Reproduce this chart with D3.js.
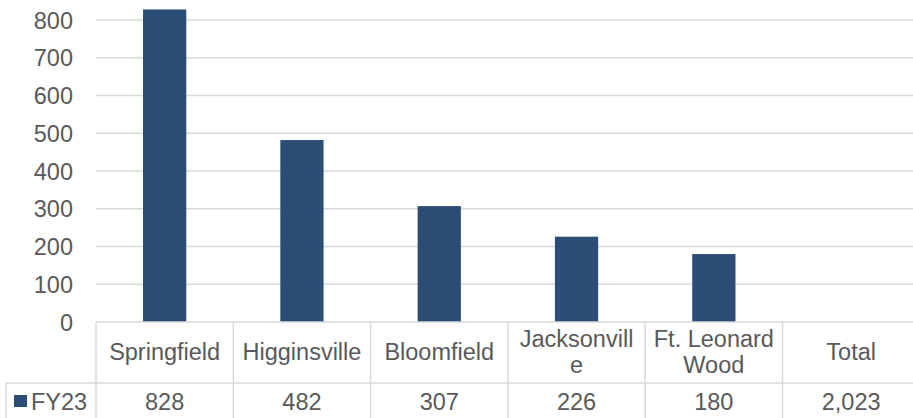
<!DOCTYPE html>
<html>
<head>
<meta charset="utf-8">
<script src="https://cdn.jsdelivr.net/npm/d3@7"></script>
<style>
  html, body { margin: 0; padding: 0; background: #fff; }
  svg { display: block; }
  text { font-family: "Liberation Sans", Arial, sans-serif; fill: #595959; }
</style>
</head>
<body>
<svg id="chart" width="913" height="418"></svg>
<script>
// ---- data ----
const categories = ["Springfield", "Higginsville", "Bloomfield", "Jacksonville", "Ft. Leonard Wood", "Total"];
const categoryLines = [["Springfield"], ["Higginsville"], ["Bloomfield"], ["Jacksonvill", "e"], ["Ft. Leonard", "Wood"], ["Total"]];
const seriesName = "FY23";
const barValues = [828, 482, 307, 226, 180, null];
const tableValues = [828, 482, 307, 226, 180, 2023];
const yTicks = [0, 100, 200, 300, 400, 500, 600, 700, 800];

// ---- layout ----
const svg = d3.select("#chart");
const plotLeft = 96, colW = 137.3;
const plotRight = plotLeft + colW * categories.length;
const y0 = 322, yTop = 20;
const headerBottom = 383, tableBottom = 440;
const legendLeft = 6;
const gridColor = "#d9d9d9";
const barColor = "#2c4d75";
const fs = 23.5;

const x = d3.scaleBand().domain(categories).range([plotLeft, plotRight]).paddingInner(0).paddingOuter(0);
const y = d3.scaleLinear().domain([0, 800]).range([y0, yTop]);

// gridlines
svg.append("g").selectAll("line").data(yTicks.filter(d => d > 0)).join("line")
  .attr("x1", plotLeft).attr("x2", plotRight)
  .attr("y1", d => y(d)).attr("y2", d => y(d))
  .attr("stroke", gridColor).attr("stroke-width", 1.5);

// y axis labels
const yAxis = d3.axisLeft(y).tickValues(yTicks).tickSize(0).tickPadding(0);
const ga = svg.append("g").attr("transform", `translate(${plotLeft - 23},0)`).call(yAxis);
ga.select(".domain").remove();
ga.attr("font-size", null).attr("font-family", null);
ga.selectAll("text").attr("font-size", fs).attr("fill", "#595959").attr("dy", "0.35em");

// bars
const bw = x.bandwidth() * 0.315;
svg.append("g").selectAll("rect")
  .data(categories.map((c, i) => ({ c, v: barValues[i] })).filter(d => d.v != null))
  .join("rect")
  .attr("x", d => x(d.c) + x.bandwidth() / 2 - bw / 2)
  .attr("width", bw)
  .attr("y", d => y(d.v))
  .attr("height", d => y(0) - y(d.v))
  .attr("fill", barColor);

// table lines
const tl = svg.append("g").attr("stroke", gridColor).attr("stroke-width", 1.5);
tl.append("line").attr("x1", plotLeft).attr("x2", plotRight).attr("y1", y0).attr("y2", y0);
tl.append("line").attr("x1", legendLeft).attr("x2", plotRight).attr("y1", headerBottom).attr("y2", headerBottom);
tl.append("line").attr("x1", legendLeft).attr("x2", legendLeft).attr("y1", headerBottom).attr("y2", tableBottom);
tl.selectAll(".v").data(categories.concat(["end"])).join("line")
  .attr("x1", (d, i) => plotLeft + i * colW).attr("x2", (d, i) => plotLeft + i * colW)
  .attr("y1", y0).attr("y2", tableBottom);

// category labels
const lh = 26;
const labelG = svg.append("g");
categories.forEach((c, i) => {
  const lines = categoryLines[i];
  const cx = x(c) + x.bandwidth() / 2;
  const midY = 360;
  const startY = midY - (lines.length - 1) * lh / 2;
  const t = labelG.append("text").attr("text-anchor", "middle").attr("font-size", fs);
  lines.forEach((ln, j) => {
    t.append("tspan").attr("x", cx).attr("y", startY + j * lh).text(ln);
  });
});

// table values
const fmt = d3.format(",");
svg.append("g").selectAll("text").data(categories).join("text")
  .attr("x", d => x(d) + x.bandwidth() / 2)
  .attr("y", 410)
  .attr("text-anchor", "middle").attr("font-size", fs)
  .text((d, i) => fmt(tableValues[i]));

// legend key
svg.append("rect").attr("x", 14).attr("y", 395).attr("width", 13).attr("height", 12).attr("fill", barColor);
svg.append("text").attr("x", 31).attr("y", 410).attr("font-size", fs).text(seriesName);
</script>
</body>
</html>
